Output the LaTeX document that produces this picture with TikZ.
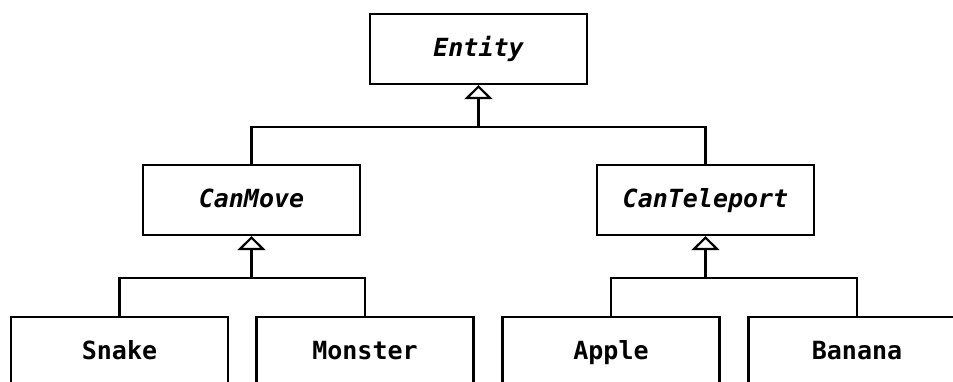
\documentclass[tikz,border=0pt]{standalone}
\usepackage{fontspec}
\newfontfamily\dvmono{DejaVu Sans Mono}
\usetikzlibrary{arrows.meta}
\begin{document}
\begin{tikzpicture}[x=1pt,y=-1pt,
  cls/.style={draw=black,line width=2.2pt,fill=white,minimum width=217pt,minimum height=70pt,inner sep=0pt,
    text height=20pt,text depth=6pt,
    font=\dvmono\bfseries\fontsize{25}{30}\selectfont},
  abs/.style={cls,font=\dvmono\bfseries\itshape\fontsize{25}{30}\selectfont},
  link/.style={line width=2.2pt},
  inh/.style={line width=2.2pt,-{Triangle[open,width=28pt,length=14pt,fill=white]}}]
\clip (0,0) rectangle (953,381);
\fill[white] (0,0) rectangle (953,381);
\node[abs] (entity) at (478.5,49) {Entity};
\node[abs] (canmove) at (251.5,200) {CanMove};
\node[abs] (canteleport) at (705.5,200) {CanTeleport};
\node[cls] (snake) at (119.5,352) {Snake};
\node[cls] (monster) at (365,352) {Monster};
\node[cls] (apple) at (611,352) {Apple};
\node[cls] (banana) at (857,352) {Banana};
\coordinate (j0) at (entity.south |- 0,127);
\coordinate (j1) at (canmove.south |- 0,278);
\coordinate (j2) at (canteleport.south |- 0,278);
\draw[link] (canmove.north) |- (j0);
\draw[link] (canteleport.north) |- (j0);
\draw[inh] (j0) -- (entity.south);
\draw[link] (snake.north) |- (j1);
\draw[link] (monster.north) |- (j1);
\draw[inh] (j1) -- (canmove.south);
\draw[link] (apple.north) |- (j2);
\draw[link] (banana.north) |- (j2);
\draw[inh] (j2) -- (canteleport.south);
\end{tikzpicture}
\end{document}
